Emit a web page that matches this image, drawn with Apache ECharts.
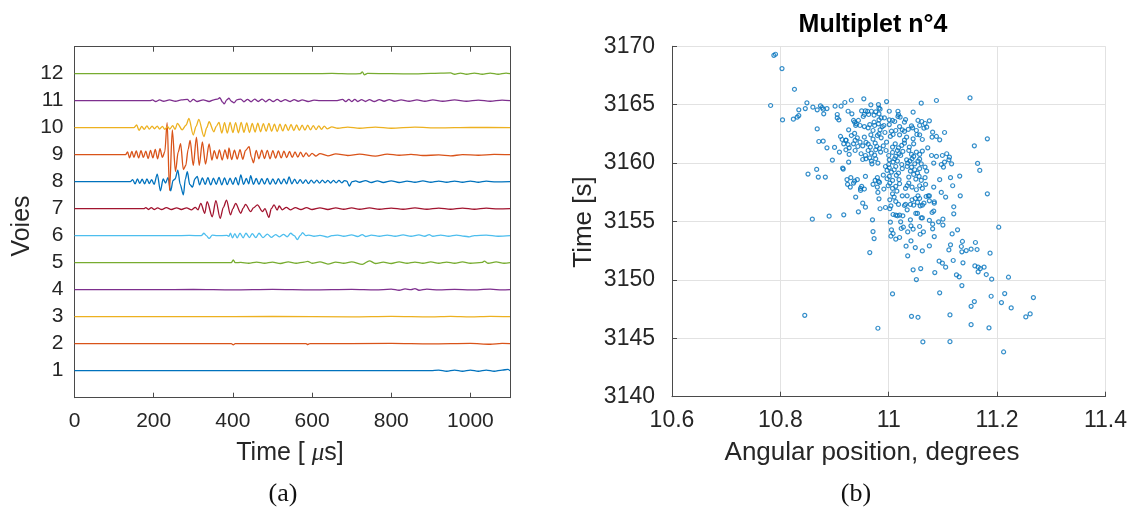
<!DOCTYPE html>
<html>
<head>
<meta charset="utf-8">
<script src="https://cdn.jsdelivr.net/npm/echarts@6/dist/echarts.min.js"></script>
<style>
html,body{margin:0;padding:0;background:#fff;}
#chart{width:1130px;height:515px;}
</style>
</head>
<body>
<div id="chart"></div>
<script>
// ---------- Panel (a): 12 channels, [time µs, amplitude offset] ----------
const voies = [1,2,3,4,5,6,7,8,9,10,11,12];
const timeTicks = [0,200,400,600,800,1000];

const trace1 = [[0,0],[900,0],[920,0.02],[940,-0.02],[960,0.02],[980,-0.02],[1000,0.02],[1020,-0.02],[1040,0.02],[1060,-0.02],[1080,0.02],[1095,0.05],[1100,0]];
const trace2 = [[0,0],[396,0],[401,-0.04],[406,0],[585,0],[589,-0.03],[594,0],[800,0.01],[900,-0.01],[1000,0.01],[1050,-0.02],[1080,0.01],[1100,0]];
const trace3 = [[0,0],[300,0],[500,0.01],[700,-0.01],[800,0.01],[900,-0.01],[950,0.01],[1000,-0.01],[1050,0.01],[1100,0]];
const trace4 = [[0,0],[200,0],[300,0.01],[400,-0.01],[500,0.01],[600,-0.01],[700,0.01],[760,-0.01],[800,0.02],[820,-0.02],[835,0.03],[850,0],[860,0.04],[870,-0.02],[890,0.02],[920,-0.01],[960,0.01],[1000,-0.01],[1050,0.02],[1080,-0.01],[1100,0]];
const trace5 = [[0,0],[396,0],[401,0.1],[406,0],[420,0.01],[440,-0.02],[460,0.02],[480,-0.02],[500,0.02],[520,-0.03],[540,0.03],[560,-0.02],[580,0.02],[589,0.05],[600,-0.02],[620,0.03],[640,-0.05],[660,0.02],[680,-0.02],[700,0.03],[727,-0.06],[745,0.07],[760,-0.03],[780,0.02],[800,-0.03],[820,0.03],[840,-0.02],[860,0.02],[880,-0.02],[900,0.03],[920,-0.02],[940,0.02],[960,-0.02],[980,0.03],[1000,-0.02],[1030,0.01],[1035,0.06],[1045,-0.02],[1065,0.03],[1085,-0.02],[1100,0]];
const trace6 = [[0,0],[250,0],[290,0.01],[320,0],[327,0.09],[333,0],[340,-0.1],[348,0.02],[360,0],[385,0.01],[390,-0.02],[394,0.09],[399,-0.08],[405,0.08],[411,-0.08],[418,0.09],[426,-0.08],[433,0.09],[442,-0.07],[449,0.08],[458,-0.07],[466,0.09],[476,-0.07],[487,0.06],[497,-0.06],[508,0.04],[518,-0.04],[528,0.05],[537,-0.04],[546,0.09],[555,0],[563,-0.14],[570,0],[576,0.11],[584,0],[592,0.02],[605,-0.02],[620,0.01],[639,-0.05],[650,0],[665,0.02],[680,-0.02],[700,0.03],[715,-0.03],[727,0.04],[735,-0.03],[750,0.02],[770,-0.02],[790,0.02],[810,-0.02],[830,0.03],[850,-0.02],[870,0.03],[885,-0.02],[896,0.04],[905,-0.02],[925,0.02],[945,-0.02],[965,0.02],[985,-0.02],[997,-0.04],[1010,0],[1040,0.02],[1070,-0.02],[1100,0]];
const trace7 = [[0,0],[175,0],[180,0.04],[187,-0.03],[194,0.04],[201,-0.03],[210,0.03],[220,-0.03],[232,0.04],[245,-0.03],[258,0.03],[270,-0.03],[283,0.03],[296,-0.04],[305,0.05],[312,-0.04],[319,0.2],[329,-0.17],[335,0.26],[348,-0.3],[357,0.3],[368,-0.36],[376,0.05],[384,0.32],[394,-0.23],[400,0],[407,0.2],[420,-0.17],[426,0.02],[432,0.16],[445,-0.11],[452,0.03],[462,0.14],[475,-0.11],[481,0],[491,-0.32],[497,0],[504,0.14],[512,-0.05],[517,0.1],[525,-0.04],[535,0.05],[545,-0.04],[558,0.04],[572,-0.03],[586,0.04],[600,-0.03],[620,0.03],[640,-0.03],[660,0.03],[680,-0.02],[700,0.03],[720,-0.02],[745,0.03],[770,-0.02],[800,0.02],[830,-0.02],[860,0.03],[890,-0.02],[920,0.02],[950,-0.02],[980,0.02],[1010,-0.02],[1040,0.02],[1070,-0.01],[1100,0]];
const trace8 = [[0,0],[141,0],[147,0.08],[153,-0.08],[159,0.1],[165,-0.06],[171,0.09],[177,-0.08],[183,0.1],[189,-0.07],[195,0.08],[201,-0.1],[209,0.28],[217,-0.34],[224,0.1],[230,-0.05],[236,0.15],[243,-0.34],[249,0.05],[254,0.1],[261,0.43],[267,-0.1],[275,-0.49],[280,0.1],[285,0.37],[291,-0.1],[298,-0.2],[304,0.1],[310,0.2],[316,-0.12],[323,0.14],[330,-0.1],[337,0.15],[344,-0.12],[351,0.13],[358,-0.1],[365,0.16],[372,-0.12],[379,0.14],[386,-0.11],[393,0.13],[400,-0.1],[407,0.15],[414,-0.12],[420,0.25],[427,-0.1],[434,0.12],[440,-0.08],[445,0.22],[452,-0.1],[459,0.12],[466,-0.1],[473,0.11],[480,-0.09],[487,0.12],[494,-0.1],[501,0.1],[508,-0.09],[515,0.11],[522,-0.08],[529,0.1],[536,-0.08],[542,0.18],[549,-0.08],[556,0.09],[563,-0.07],[570,0.08],[577,-0.06],[584,0.07],[591,-0.07],[598,0.06],[605,-0.05],[612,0.06],[619,-0.05],[626,0.06],[633,-0.04],[640,0.05],[647,-0.05],[654,0.05],[661,-0.04],[668,0.05],[675,-0.04],[682,0.04],[688,0.02],[694,-0.16],[701,0],[710,0.03],[720,-0.02],[735,0.04],[750,-0.03],[765,0.03],[780,-0.03],[800,0.03],[820,-0.03],[840,0.02],[860,-0.02],[880,0.03],[900,-0.02],[920,0.02],[940,-0.02],[960,0.02],[980,-0.02],[1000,0.02],[1020,-0.02],[1040,0.02],[1065,-0.01],[1100,0]];
const trace9 = [[0,0],[129,0],[134,0.1],[139,-0.12],[145,0.12],[150,-0.1],[156,0.14],[162,-0.12],[168,0.15],[174,-0.1],[180,0.13],[186,-0.14],[192,0.16],[198,-0.12],[204,0.2],[210,-0.15],[216,0.22],[222,-0.1],[228,0.1],[234,1.19],[240,-1.33],[247,0.92],[255,-0.62],[262,0.1],[268,0.41],[275,-0.55],[281,-0.4],[287,0.2],[292,0.53],[300,-0.4],[308,0.65],[315,-0.4],[323,0.47],[331,-0.35],[340,0.4],[347,-0.2],[353,0.15],[360,-0.15],[366,0.18],[373,-0.2],[380,0.18],[387,-0.15],[390,0.25],[397,-0.18],[404,0.17],[411,-0.16],[418,0.19],[425,-0.17],[432,0.16],[441,0.3],[447,-0.1],[452,-0.3],[459,0.16],[466,-0.15],[473,0.17],[480,-0.14],[487,0.16],[494,-0.15],[501,0.15],[508,-0.13],[515,0.14],[522,-0.12],[529,0.13],[536,-0.11],[543,0.12],[550,-0.1],[557,0.1],[564,-0.09],[571,0.09],[578,-0.08],[585,0.07],[592,-0.06],[600,0.05],[610,-0.05],[620,0.04],[640,-0.04],[660,0.03],[690,-0.03],[720,0.02],[760,-0.05],[790,0.02],[820,-0.02],[850,0.01],[880,-0.03],[920,-0.01],[950,-0.04],[980,0],[1020,-0.02],[1060,0.01],[1100,0]];
const trace10 = [[0,0],[150,0],[157,0.1],[163,-0.1],[170,0.05],[176,-0.06],[183,0.07],[189,-0.05],[196,0.06],[202,-0.04],[209,0.06],[215,-0.05],[222,0.05],[228,-0.06],[235,0.04],[241,-0.05],[248,0.08],[254,-0.06],[260,0.16],[272,-0.08],[282,0.1],[289,0.34],[300,-0.27],[307,0.05],[314,0.31],[327,-0.33],[334,0],[340,0.22],[352,-0.15],[358,0.05],[365,0.2],[372,-0.2],[379,0.19],[386,-0.2],[393,0.2],[400,-0.18],[407,0.19],[414,-0.19],[421,0.2],[428,-0.17],[435,0.18],[442,-0.18],[449,0.16],[456,-0.16],[463,0.17],[470,-0.15],[477,0.15],[484,-0.13],[491,0.16],[498,-0.13],[505,0.13],[512,-0.14],[519,0.13],[526,-0.12],[533,0.12],[540,-0.11],[547,0.12],[554,-0.11],[561,0.1],[568,-0.1],[575,0.09],[582,-0.09],[589,0.09],[596,-0.08],[603,0.08],[610,-0.07],[617,0.07],[624,-0.06],[631,0.06],[638,-0.04],[650,0.03],[665,-0.02],[690,0.02],[720,-0.02],[760,0.02],[800,-0.02],[860,0.02],[920,-0.01],[1000,0.01],[1100,0]];
const trace11 = [[0,0],[190,0],[197,0.03],[205,-0.03],[215,0.03],[225,-0.02],[240,0.03],[255,-0.02],[270,0.03],[285,0.05],[292,-0.04],[300,0.05],[310,-0.03],[325,0.03],[340,-0.03],[352,0.03],[361,0.06],[367,0.11],[374,-0.05],[378,-0.12],[385,0.04],[390,0.09],[396,-0.02],[403,-0.08],[410,0.03],[420,0.06],[428,-0.04],[437,0.05],[446,-0.04],[455,0.06],[464,-0.03],[474,0.06],[483,-0.04],[492,0.05],[502,-0.03],[512,0.05],[522,-0.03],[532,0.04],[545,-0.03],[555,0.04],[565,-0.02],[575,0.03],[590,-0.03],[605,0.02],[620,0],[660,0],[677,0.05],[685,-0.03],[693,0.05],[700,-0.03],[708,0.05],[716,-0.03],[725,0.04],[735,-0.03],[745,0.04],[757,-0.03],[770,0.04],[782,-0.02],[795,0.04],[808,-0.02],[825,0.03],[845,-0.02],[865,0.03],[885,-0.02],[905,0.03],[930,-0.02],[960,0.03],[990,-0.02],[1020,0.02],[1050,-0.02],[1080,0.02],[1100,0]];
const trace12 = [[0,0],[600,0],[650,0.01],[700,-0.01],[722,0],[727,0.07],[732,-0.04],[740,0.01],[800,0],[860,-0.01],[900,0.01],[950,0.03],[960,-0.02],[975,0.02],[990,-0.02],[1010,0.02],[1030,-0.02],[1050,0.02],[1070,-0.02],[1090,0.02],[1100,0]];

// ---------- Panel (b): Multiplet n°4, [angular position deg, time s] ----------
const multipletPoints = [
[10.788,3169.23],[10.791,3169.32],[10.803,3168.09],[10.826,3166.32],[10.782,3164.93],[10.804,3163.70],[10.824,3163.76],[10.831,3163.93],[10.834,3164.07],[10.834,3164.56],[10.849,3165.16],[10.846,3164.67],[10.860,3164.79],[10.868,3164.56],[10.874,3164.90],[10.877,3164.76],[10.879,3164.62],[10.880,3164.22],[10.886,3164.67],[10.901,3164.87],[10.912,3164.87],[10.919,3165.19],[10.931,3165.38],[10.954,3165.50],[10.967,3164.99],[10.981,3165.01],[10.982,3164.70],[10.996,3165.27],[11.060,3165.13],[11.088,3165.36],[11.150,3165.58],
[10.868,3162.93],[10.896,3160.26],[10.867,3159.46],[10.915,3159.57],[10.916,3159.49],[10.851,3159.06],[10.870,3158.80],[10.883,3158.80],
[11.182,3162.08],[11.158,3161.48],[11.164,3159.97],[11.168,3159.37],[11.131,3158.89],
[10.905,3164.16],[10.925,3164.44],[10.932,3164.22],[10.950,3164.47],[10.957,3164.47],[10.961,3164.42],[10.968,3164.44],[10.973,3164.10],[10.976,3164.39],[10.982,3164.22],[10.984,3164.62],[11.001,3164.44],[11.017,3164.44],[11.045,3164.36],
[10.905,3163.87],[10.908,3163.70],[10.937,3163.50],[10.935,3163.65],[10.940,3163.36],[10.944,3163.65],[10.953,3163.99],[10.955,3164.16],[10.963,3164.16],[10.973,3163.50],[10.982,3163.70],[10.986,3163.87],[10.992,3163.87],[11.001,3163.70],[11.007,3163.65],[11.011,3163.56],[11.021,3163.93],[11.029,3163.50],[11.031,3163.73],[11.054,3163.65],[11.061,3163.56],[11.067,3163.39],[11.075,3163.62],[11.018,3164.16],[11.017,3163.99],
[10.926,3162.85],[10.939,3163.22],[10.947,3163.22],[10.955,3163.13],[10.962,3163.02],[10.965,3163.30],[10.971,3162.79],[10.974,3163.22],[10.981,3163.36],[10.984,3162.85],[10.988,3163.13],[10.991,3163.22],[11.001,3163.30],[11.005,3162.73],[11.013,3162.79],[11.020,3163.13],[11.025,3162.85],[11.029,3162.71],[11.036,3162.88],[11.042,3163.19],[11.044,3163.02],[11.051,3162.79],[11.057,3163.22],[11.065,3162.99],[11.070,3163.08],[11.081,3162.65],[11.103,3162.62],
[10.911,3162.28],[10.914,3162.02],[10.921,3161.97],[10.931,3162.36],[10.937,3162.54],[10.942,3162.16],[10.955,3162.22],[10.967,3162.42],[10.971,3162.05],[10.979,3162.36],[10.982,3162.51],[10.986,3162.16],[10.993,3162.62],[11.003,3162.28],[11.008,3162.45],[11.020,3162.42],[11.029,3161.97],[11.033,3162.22],[11.045,3162.08],[11.052,3162.45],[11.057,3162.42],[11.062,3162.02],[11.080,3162.22],[11.088,3162.28],[11.094,3161.99],
[10.871,3161.85],[10.879,3161.88],[10.886,3161.31],[10.900,3161.34],[10.917,3161.65],[10.921,3161.94],[10.925,3161.59],[10.927,3161.31],[10.935,3161.65],[10.938,3161.94],[10.943,3161.42],[10.947,3161.79],[10.952,3161.48],[10.958,3161.77],[10.962,3161.62],[10.966,3161.37],[10.975,3161.71],[10.978,3161.42],[10.983,3161.25],[10.990,3161.48],[10.996,3161.79],[11.007,3161.37],[11.012,3161.65],[11.018,3161.31],[11.024,3161.51],[11.029,3161.71],[11.038,3161.37],[11.046,3161.65],[11.072,3161.31],
[10.909,3160.94],[10.921,3161.14],[10.927,3160.74],[10.938,3161.08],[10.949,3160.80],[10.957,3160.65],[10.962,3161.08],[10.968,3160.85],[10.974,3160.68],[10.976,3161.14],[10.985,3160.94],[10.995,3161.08],[11.000,3160.65],[11.007,3160.91],[11.013,3160.57],[11.016,3161.08],[11.019,3160.80],[11.022,3160.65],[11.026,3161.00],[11.037,3161.08],[11.042,3160.74],[11.046,3160.57],[11.051,3160.94],[11.057,3160.74],[11.062,3161.03],[11.079,3160.65],[11.088,3160.57],[11.099,3160.65],[11.107,3160.80],[11.112,3160.51],
[10.926,3160.09],[10.952,3160.31],[10.958,3160.37],[10.965,3160.45],[10.968,3160.17],[10.969,3159.94],[10.976,3160.37],[10.980,3160.00],[11.000,3159.88],[11.001,3160.28],[11.008,3160.09],[11.011,3160.37],[11.016,3160.17],[11.024,3159.88],[11.033,3160.28],[11.035,3160.00],[11.039,3160.17],[11.043,3160.37],[11.048,3159.94],[11.054,3160.17],[11.057,3160.34],[11.060,3159.94],[11.083,3160.00],[11.097,3159.88],[11.103,3160.09],[11.111,3160.28],[11.116,3159.94],
[10.994,3159.71],[10.997,3159.37],[11.001,3159.60],[11.005,3159.23],[11.010,3159.43],[11.013,3159.71],[11.018,3159.15],[11.025,3159.52],[11.034,3159.71],[11.040,3159.32],[11.042,3159.66],[11.048,3159.43],[11.053,3159.15],[11.057,3159.52],[11.067,3159.66],[11.070,3159.32],[11.101,3159.66],
[10.923,3158.58],[10.930,3158.75],[10.937,3158.46],[10.942,3158.58],[10.957,3158.86],[10.975,3158.52],[10.979,3158.75],[10.981,3158.43],[10.990,3158.97],[10.997,3158.66],[11.001,3158.86],[11.007,3158.52],[11.014,3158.95],[11.019,3158.58],[11.037,3158.80],[11.046,3159.03],[11.050,3158.63],[11.056,3158.86],[11.060,3158.52],[11.067,3158.75],[11.094,3158.58],[11.114,3158.75],
[10.924,3158.18],[10.929,3157.95],[10.935,3158.29],[10.948,3157.83],[10.950,3158.01],[10.955,3157.78],[10.971,3158.18],[10.979,3157.95],[10.983,3158.35],[10.991,3157.78],[10.999,3158.06],[11.002,3158.29],[11.007,3157.83],[11.013,3158.01],[11.020,3158.23],[11.031,3157.83],[11.034,3158.06],[11.037,3158.29],[11.043,3157.95],[11.051,3157.72],[11.057,3158.06],[11.062,3157.83],[11.068,3158.18],[11.083,3157.95],[11.118,3158.06],
[10.939,3157.09],[10.952,3156.57],[10.957,3156.23],[10.944,3155.83],[10.948,3157.66],[10.980,3157.49],[10.982,3156.94],[10.984,3156.09],[10.994,3156.20],[11.002,3156.09],[11.004,3156.34],[11.002,3156.86],[11.007,3157.37],[11.010,3157.09],[11.013,3156.71],[11.018,3156.46],[11.015,3157.60],[11.025,3157.20],[11.029,3156.37],[11.034,3157.20],[11.031,3156.46],[11.034,3156.00],[11.040,3156.46],[11.043,3156.86],[11.046,3156.40],[11.049,3156.97],[11.054,3157.20],[11.053,3156.63],[11.057,3156.97],[11.058,3156.34],[11.062,3156.40],[11.065,3156.57],[11.069,3157.14],[11.073,3157.20],
[10.859,3155.20],[10.890,3155.46],[10.917,3155.57],[10.970,3155.14],[11.008,3155.60],[11.013,3155.54],[11.016,3155.49],[11.020,3155.54],[11.022,3154.97],[11.026,3155.49],[11.003,3154.94],[11.040,3155.14],[11.050,3155.69],[11.053,3155.69],[11.060,3155.31],[11.062,3155.31],
[10.971,3154.14],[10.973,3153.54],[11.005,3154.29],[11.008,3153.97],[11.004,3153.74],[11.013,3153.49],[11.020,3153.63],[11.027,3154.51],[11.023,3154.40],[11.035,3154.11],[11.041,3154.63],[11.045,3154.34],[11.058,3153.91],[11.064,3154.11],[11.057,3154.57],
[11.041,3153.34],[11.032,3152.89],[11.049,3152.77],[11.062,3152.48],[10.965,3152.34],[11.035,3152.06],
[11.045,3150.86],[11.059,3150.97],[11.051,3150.03],
[11.007,3148.80],[10.845,3146.97],[11.042,3146.88],[11.054,3146.80],[10.980,3145.86],[11.063,3144.69],
[11.075,3157.20],[11.097,3157.49],[11.105,3157.09],[11.132,3157.20],[11.182,3157.37],[11.075,3156.77],[11.084,3156.69],[11.084,3156.57],[11.120,3156.26],[11.080,3155.77],[11.083,3155.89],[11.120,3155.66],[11.075,3155.09],[11.092,3154.97],[11.100,3155.20],[11.100,3154.69],[11.081,3154.77],[11.081,3154.37],[11.203,3154.51],[11.127,3154.29],[11.117,3153.94],[11.084,3153.71],[11.075,3152.91],[11.136,3153.29],[11.160,3153.20],[11.114,3153.00],[11.134,3152.86],[11.111,3152.57],[11.135,3152.40],[11.143,3152.51],[11.152,3152.63],[11.163,3152.60],[11.187,3152.29],
[11.093,3151.60],[11.099,3151.43],[11.119,3151.66],[11.137,3151.46],[11.105,3151.09],[11.159,3151.20],[11.165,3151.09],[11.169,3150.97],[11.176,3151.09],[11.165,3150.69],[11.085,3150.63],[11.125,3150.43],[11.130,3150.26],[11.180,3150.46],[11.190,3150.06],[11.221,3150.23],
[11.135,3149.51],[11.094,3148.89],[11.189,3148.60],[11.214,3148.83],[11.267,3148.49],[11.208,3148.06],[11.158,3148.14],[11.152,3147.74],[11.226,3147.60],[11.261,3147.09],[11.253,3146.83],[11.113,3147.00],[11.152,3146.17],[11.185,3145.89],[11.113,3144.71],[11.212,3143.83]
];
const angleTicks = [10.6,10.8,11,11.2,11.4];
const timeTicksB = [3140,3145,3150,3155,3160,3165,3170];

// ---------- styling ----------
const traces = [trace1,trace2,trace3,trace4,trace5,trace6,trace7,trace8,trace9,trace10,trace11,trace12];
const traceColors = ['#0072BD','#D95319','#EDB120','#7E2F8E','#77AC30','#4DBEEE','#A2142F','#0072BD','#D95319','#EDB120','#7E2F8E','#77AC30'];
const axisCol = '#4a4a4a';
const txtCol = '#262626';
const gridCol = '#e2e2e2';
const FF = '"Liberation Sans", Arial, Helvetica, sans-serif';

const chart = echarts.init(document.getElementById('chart'), null, {renderer:'canvas'});

const traceSeries = traces.map((tr, i) => ({
  type: 'line', xAxisIndex: 0, yAxisIndex: 0, showSymbol: false, silent: true,
  smooth: 0.3, smoothMonotone: 'x',
  data: tr.map(p => [p[0], voies[i] + p[1]]),
  lineStyle: {color: traceColors[i], width: 1.3},
  itemStyle: {color: traceColors[i]},
  z: 2
}));

const option = {
  animation: false,
  backgroundColor: '#fff',
  grid: [
    {left: 74.5, top: 46.7, width: 435.5, height: 351, containLabel: false},
    {left: 672, top: 46.3, width: 434.5, height: 350.4, containLabel: false}
  ],
  xAxis: [
    {type:'value', gridIndex:0, position:'bottom', min:timeTicks[0], max:1100, interval:200,
     axisLine:{show:true, onZero:false, lineStyle:{color:axisCol, width:1}},
     axisTick:{show:true, inside:true, length:5, lineStyle:{color:axisCol}},
     axisLabel:{show:true, showMaxLabel:false, fontSize:21, fontFamily:FF, color:txtCol, margin:13,
       formatter: v => String(v)},
     splitLine:{show:false}},
    {type:'value', gridIndex:0, position:'top', min:timeTicks[0], max:1100, interval:200,
     axisLine:{show:true, onZero:false, lineStyle:{color:axisCol, width:1}},
     axisTick:{show:true, inside:true, length:5, lineStyle:{color:axisCol}},
     axisLabel:{show:false}, splitLine:{show:false}},
    {type:'value', gridIndex:1, position:'bottom', min:angleTicks[0], max:angleTicks[angleTicks.length-1], interval:0.2,
     axisLine:{show:true, onZero:false, lineStyle:{color:axisCol, width:1}},
     axisTick:{show:true, inside:true, length:5, lineStyle:{color:axisCol}},
     axisLabel:{show:true, fontSize:23, fontFamily:FF, color:txtCol, margin:12,
       formatter: v => String(+v.toFixed(1))},
     splitLine:{show:true, lineStyle:{color:gridCol, width:1}}}
  ],
  yAxis: [
    {type:'value', gridIndex:0, position:'left', min:0, max:13, interval:1,
     axisLine:{show:true, onZero:false, lineStyle:{color:axisCol, width:1}},
     axisTick:{show:true, inside:true, length:5, lineStyle:{color:axisCol}},
     axisLabel:{show:true, showMinLabel:false, showMaxLabel:false, fontSize:21, fontFamily:FF, color:txtCol, margin:11,
       formatter: v => (voies.indexOf(v) >= 0 ? String(v) : '')},
     splitLine:{show:false}},
    {type:'value', gridIndex:0, position:'right', min:0, max:13, interval:1,
     axisLine:{show:true, onZero:false, lineStyle:{color:axisCol, width:1}},
     axisTick:{show:false}, axisLabel:{show:false}, splitLine:{show:false}},
    {type:'value', gridIndex:1, position:'left', min:timeTicksB[0], max:timeTicksB[timeTicksB.length-1], interval:5,
     axisLine:{show:true, onZero:false, lineStyle:{color:axisCol, width:1}},
     axisTick:{show:true, inside:true, length:5, lineStyle:{color:axisCol}},
     axisLabel:{show:true, fontSize:23, fontFamily:FF, color:txtCol, margin:17,
       formatter: v => String(v)},
     splitLine:{show:true, lineStyle:{color:gridCol, width:1}}}
  ],
  series: traceSeries.concat([{
    type:'scatter', xAxisIndex:2, yAxisIndex:2, silent:true,
    symbol:'circle', symbolSize:4,
    data: multipletPoints,
    itemStyle:{color:'rgba(255,255,255,0)', borderColor:'#0072BD', borderWidth:1.2},
    z: 3
  }]),
  graphic: [
    {type:'text', x:22, y:226, rotation:Math.PI/2,
     style:{text:'Voies', fontSize:25, fontFamily:FF, fill:txtCol, align:'center', verticalAlign:'middle'}},
    {type:'text', x:290, y:453,
     style:{text:'{n|Time [ }{m|μ}{n|s]}', align:'center', verticalAlign:'middle',
       rich:{n:{fontSize:25, fontFamily:FF, fill:txtCol, color:txtCol},
             m:{fontSize:25, fontFamily:'"Liberation Serif", serif', fontStyle:'italic', fill:txtCol, color:txtCol}}}},
    {type:'text', x:283, y:494,
     style:{text:'(a)', fontSize:26, fontFamily:'"Liberation Serif", "DejaVu Serif", serif', fill:'#111', align:'center', verticalAlign:'middle'}},
    {type:'text', x:584, y:222, rotation:Math.PI/2,
     style:{text:'Time [s]', fontSize:26, fontFamily:FF, fill:txtCol, align:'center', verticalAlign:'middle'}},
    {type:'text', x:872, y:453,
     style:{text:'Angular position, degrees', fontSize:26, fontFamily:FF, fill:txtCol, align:'center', verticalAlign:'middle'}},
    {type:'text', x:856, y:494,
     style:{text:'(b)', fontSize:26, fontFamily:'"Liberation Serif", "DejaVu Serif", serif', fill:'#111', align:'center', verticalAlign:'middle'}},
    {type:'text', x:873, y:25,
     style:{text:'Multiplet n°4', fontSize:25, fontWeight:'bold', fontFamily:FF, fill:'#000', align:'center', verticalAlign:'middle'}}
  ]
};
chart.setOption(option);
</script>
</body>
</html>
